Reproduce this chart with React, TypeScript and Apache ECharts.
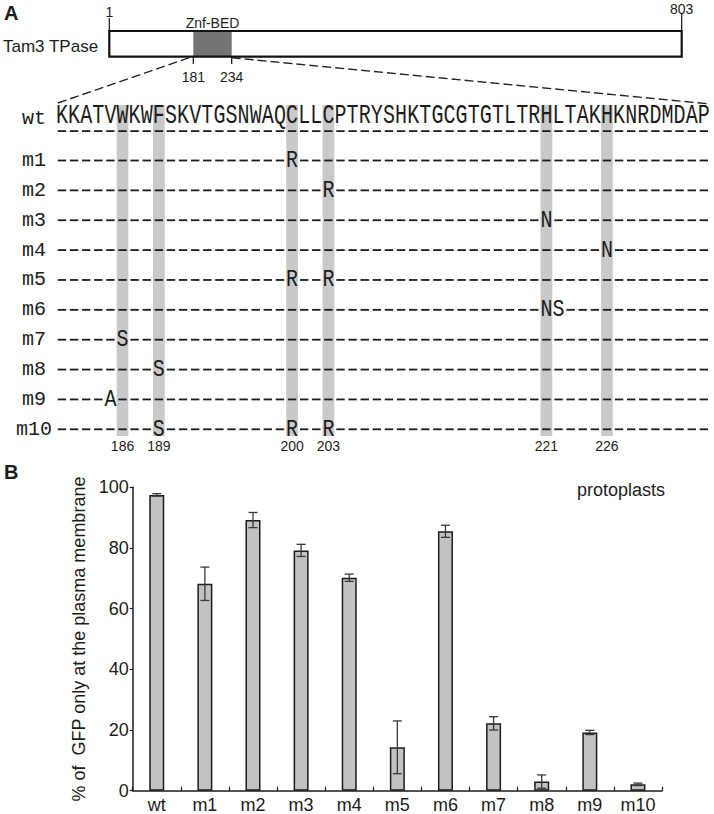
import React, { useEffect, useRef } from "react";
import * as echarts from "echarts";

// ---------- Panel B data ----------
const CATEGORIES = ["wt", "m1", "m2", "m3", "m4", "m5", "m6", "m7", "m8", "m9", "m10"];
const VALUES = [97.5, 68.2, 89.2, 79.2, 70.2, 14.3, 85.5, 22.2, 3.0, 19.2, 2.1];
const ERRORS = [0.4, 5.5, 2.5, 2.0, 1.2, 8.7, 2.0, 2.2, 2.2, 0.7, 0.4];
const Y_MIN = 0;
const Y_MAX = 100;
const Y_INTERVAL = 20;
const Y_TITLE = "% of  GFP only at the plasma membrane";
const CONDITION = "protoplasts";

// ---------- Panel A data ----------
const PROTEIN_NAME = "Tam3 TPase";
const PROTEIN_START = "1";
const PROTEIN_END = "803";
const DOMAIN_NAME = "Znf-BED";
const DOMAIN_START = 181;
const DOMAIN_END = 234;
const WT_SEQUENCE = "KKATVWKWFSKVTGSNWAQCLLCPTRYSHKTGCGTGTLTRHLTAKHKNRDMDAP";
const ROWS = ["wt", "m1", "m2", "m3", "m4", "m5", "m6", "m7", "m8", "m9", "m10"];
const HIGHLIGHTS = [186, 189, 200, 203, 221, 226];
const MUT_ROWS = ["m1", "m2", "m3", "m4", "m5", "m5", "m6", "m6", "m7", "m8", "m9", "m10", "m10", "m10"];
const MUT_POS = [200, 203, 221, 226, 200, 203, 221, 222, 186, 189, 185, 189, 200, 203];
const MUT_AA = ["R", "R", "N", "N", "R", "R", "N", "S", "S", "S", "A", "S", "R", "R"];

const SANS = '"Liberation Sans", Arial, sans-serif';
const SEQ_FONT = '20px "Liberation Mono", monospace';
const LABEL_FONT = '20px "Liberation Mono", monospace';
const INK = "#1c1c1c";

export default function App() {
  const ref = useRef<HTMLDivElement>(null);

  useEffect(() => {
    if (!ref.current) return;
    const chart = echarts.init(ref.current, undefined, { renderer: "svg" });

    // alignment items
    const letterItems: { pos: number; row: number; ch: string }[] = [];
    const dashItems: number[][] = [];
    for (let i = 0; i < WT_SEQUENCE.length; i++) {
      letterItems.push({ pos: DOMAIN_START + i, row: 0, ch: WT_SEQUENCE[i] });
      dashItems.push([DOMAIN_START + i, 0]);
    }
    for (let r = 1; r < ROWS.length; r++) {
      for (let i = 0; i < WT_SEQUENCE.length; i++) {
        const pos = DOMAIN_START + i;
        let mutated = false;
        for (let k = 0; k < MUT_ROWS.length; k++) {
          if (MUT_ROWS[k] === ROWS[r] && MUT_POS[k] === pos) mutated = true;
        }
        if (!mutated) dashItems.push([pos, r]);
      }
    }
    for (let k = 0; k < MUT_ROWS.length; k++) {
      letterItems.push({ pos: MUT_POS[k], row: ROWS.indexOf(MUT_ROWS[k]), ch: MUT_AA[k] });
    }

    const txt = (text: string, x: number, y: number, font: string, align = "center", vAlign = "middle", extra: any = {}, styleExtra: any = {}) => ({
      type: "text",
      x,
      y,
      silent: true,
      ...extra,
      style: { text, font, fill: INK, align, verticalAlign: vAlign, textAlign: align, textVerticalAlign: vAlign, ...styleExtra },
    });

    // schematic (not to scale in the original)
    const rx0 = 109.3, rx1 = 681.7, ry0 = 31, ry1 = 56.7;
    const dx0 = 193.3, dx1 = 231.7;

    const option: any = {
      animation: false,
      backgroundColor: "#ffffff",
      grid: [
        { left: 132.7, right: 52, top: 487.3, bottom: 23.3, containLabel: false },
        { left: 55.9, right: 4.1, top: 130.63, bottom: 384.7, containLabel: false },
      ],
      xAxis: [
        {
          type: "category",
          gridIndex: 0,
          data: CATEGORIES,
          boundaryGap: true,
          axisLine: { lineStyle: { color: INK, width: 1.5 } },
          axisTick: { show: true, inside: true, length: 4, lineStyle: { color: INK, width: 1.2 } },
          axisLabel: { color: INK, fontSize: 18, fontFamily: SANS, margin: 5 },
        },
        { type: "value", gridIndex: 1, min: 180.5, max: 234.5, show: false },
      ],
      yAxis: [
        {
          type: "value",
          gridIndex: 0,
          min: Y_MIN,
          max: Y_MAX,
          interval: Y_INTERVAL,
          name: Y_TITLE,
          nameLocation: "middle",
          nameGap: 29,
          nameTextStyle: { color: INK, fontSize: 18, fontFamily: SANS },
          axisLine: { show: true, lineStyle: { color: INK, width: 1.5 } },
          axisTick: { show: true, inside: false, length: 3, lineStyle: { color: INK, width: 1.2 } },
          splitLine: { show: false },
          axisLabel: { color: INK, fontSize: 18, fontFamily: SANS, margin: 4 },
        },
        { type: "value", gridIndex: 1, min: 0, max: 10, inverse: true, show: false },
      ],
      series: [
        {
          type: "bar",
          xAxisIndex: 0,
          yAxisIndex: 0,
          data: VALUES,
          barWidth: 15,
          itemStyle: { color: "#c2c2c2", borderColor: INK, borderWidth: 1.5 },
          silent: true,
        },
        {
          type: "custom",
          xAxisIndex: 0,
          yAxisIndex: 0,
          z: 5,
          silent: true,
          data: VALUES.map((v, i) => [i, v, ERRORS[i]]),
          renderItem: (params: any, api: any) => {
            const i = api.value(0);
            const v = api.value(1);
            const e = api.value(2);
            const hi = api.coord([i, v + e]);
            const lo = api.coord([i, v - e]);
            const hw = 4.5;
            const st = { stroke: "#3a3a3a", lineWidth: 1.3 };
            return {
              type: "group",
              children: [
                { type: "line", shape: { x1: hi[0], y1: hi[1], x2: lo[0], y2: lo[1] }, style: st },
                { type: "line", shape: { x1: hi[0] - hw, y1: hi[1], x2: hi[0] + hw, y2: hi[1] }, style: st },
                { type: "line", shape: { x1: lo[0] - hw, y1: lo[1], x2: lo[0] + hw, y2: lo[1] }, style: st },
              ],
            };
          },
        },
        // highlighted columns + position numbers
        {
          type: "custom",
          xAxisIndex: 1,
          yAxisIndex: 1,
          z: 1,
          silent: true,
          data: HIGHLIGHTS.map((p) => [p, 0]),
          renderItem: (params: any, api: any) => {
            const pos = api.value(0);
            const a = api.coord([pos - 0.483, 0]);
            const b = api.coord([pos + 0.483, ROWS.length - 1]);
            const top = a[1] - 25.6;
            const bottom = b[1] + 6.7;
            return {
              type: "group",
              children: [
                { type: "rect", shape: { x: a[0], y: top, width: b[0] - a[0], height: bottom - top }, style: { fill: "#c9c9c9" } },
                txt(String(pos), (a[0] + b[0]) / 2, bottom + 9.5, `14px ${SANS}`),
              ],
            };
          },
        },
        // dashes
        {
          type: "custom",
          xAxisIndex: 1,
          yAxisIndex: 1,
          z: 3,
          silent: true,
          data: dashItems,
          renderItem: (params: any, api: any) => {
            const pos = api.value(0);
            const row = api.value(1);
            const c = api.coord([pos, row]);
            const y = row === 0 ? c[1] + 0.5 : c[1];
            return { type: "rect", shape: { x: c[0] - 4.2, y: y - 0.9, width: 8.4, height: 1.8 }, style: { fill: INK } };
          },
        },
        // letters
        {
          type: "custom",
          xAxisIndex: 1,
          yAxisIndex: 1,
          z: 4,
          silent: true,
          data: letterItems.map((d) => [d.pos, d.row]),
          renderItem: (params: any, api: any) => {
            const d = letterItems[params.dataIndex];
            const c = api.coord([d.pos, d.row]);
            if (d.row === 0) {
              return txt(d.ch, c[0], c[1] - 15, SEQ_FONT, "center", "middle", { scaleY: 1.38 });
            }
            return txt(d.ch, c[0], c[1], SEQ_FONT, "center", "middle", { scaleY: 1.15 });
          },
        },
        // row labels
        {
          type: "custom",
          xAxisIndex: 1,
          yAxisIndex: 1,
          z: 4,
          silent: true,
          data: ROWS.map((r, i) => [180.5, i]),
          renderItem: (params: any, api: any) => {
            const row = api.value(1);
            const c = api.coord([180.5, row]);
            const y = row === 0 ? c[1] - 12.5 : c[1];
            return txt(ROWS[params.dataIndex], c[0] - 22, y, LABEL_FONT);
          },
        },
      ],
      graphic: [
        txt("A", 4, 13, `bold 20px ${SANS}`, "left"),
        txt("B", 4, 472, `bold 20px ${SANS}`, "left"),
        txt(CONDITION, 665, 490, `18px ${SANS}`, "right"),
        txt(PROTEIN_NAME, 3, 46.5, `17px ${SANS}`, "left"),
        { type: "rect", shape: { x: rx0, y: ry0, width: rx1 - rx0, height: ry1 - ry0 }, style: { fill: "#ffffff" } },
        { type: "rect", shape: { x: dx0, y: ry0, width: dx1 - dx0, height: ry1 - ry0 }, style: { fill: "#747474" } },
        { type: "rect", shape: { x: rx0, y: ry0, width: rx1 - rx0, height: ry1 - ry0 }, style: { fill: "none", stroke: "#111", lineWidth: 2.2 } },
        { type: "line", shape: { x1: rx0, y1: 18, x2: rx0, y2: ry0 }, style: { stroke: "#111", lineWidth: 1.2 } },
        { type: "line", shape: { x1: rx1, y1: 14, x2: rx1, y2: ry0 }, style: { stroke: "#111", lineWidth: 1.2 } },
        txt(PROTEIN_START, rx0, 11.5, `14px ${SANS}`),
        txt(PROTEIN_END, rx1, 8.5, `14px ${SANS}`),
        txt(DOMAIN_NAME, (dx0 + dx1) / 2, 22.5, `14px ${SANS}`),
        { type: "line", shape: { x1: dx0, y1: ry1, x2: dx0, y2: 64 }, style: { stroke: "#111", lineWidth: 1.2 } },
        { type: "line", shape: { x1: dx1, y1: ry1, x2: dx1, y2: 64 }, style: { stroke: "#111", lineWidth: 1.2 } },
        txt(String(DOMAIN_START), dx0, 77, `14px ${SANS}`),
        txt(String(DOMAIN_END), dx1, 77, `14px ${SANS}`),
        { type: "line", shape: { x1: dx0 - 4, y1: ry1 + 1, x2: 55, y2: 104 }, style: { stroke: "#222", lineWidth: 1.4, lineDash: [9, 4] } },
        { type: "line", shape: { x1: dx1, y1: ry1 + 1, x2: 710, y2: 104 }, style: { stroke: "#222", lineWidth: 1.4, lineDash: [9, 4] } },
      ],
    };

    chart.setOption(option);
    return () => chart.dispose();
  }, []);

  return (
    <div
      ref={ref}
      style={{ position: "fixed", left: 0, top: 0, width: 714, height: 814, background: "#fff" }}
    />
  );
}
